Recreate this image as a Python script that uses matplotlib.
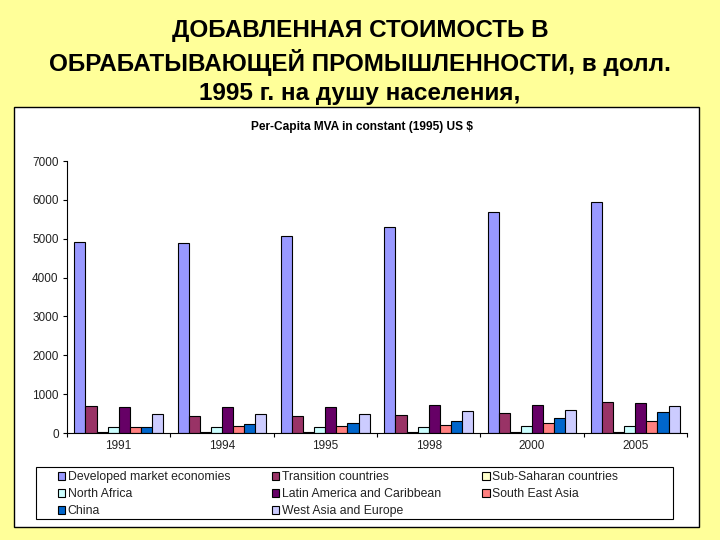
import matplotlib
matplotlib.use("Agg")
import matplotlib.pyplot as plt
import numpy as np
from matplotlib.patches import Rectangle

years = ["1991", "1994", "1995", "1998", "2000", "2005"]
series_names = ["Developed market economies", "Transition countries", "Sub-Saharan countries",
                "North Africa", "Latin America and Caribbean", "South East Asia",
                "China", "West Asia and Europe"]
developed = [4910, 4900, 5060, 5300, 5680, 5940]
transition = [690, 430, 430, 460, 505, 790]
sub_saharan = [20, 15, 15, 15, 15, 15]
north_africa = [155, 155, 150, 155, 170, 190]
latin_america = [670, 670, 670, 720, 720, 765]
se_asia = [155, 180, 180, 200, 250, 300]
china = [155, 225, 250, 300, 375, 530]
west_asia = [490, 490, 500, 560, 590, 695]
values = [developed, transition, sub_saharan, north_africa, latin_america, se_asia, china, west_asia]
colors = ["#9999FF", "#993366", "#FFFFCC", "#CCFFFF", "#660066", "#FF8080", "#0066CC", "#CCCCFF"]

plt.rcParams['font.family'] = ['Liberation Sans', 'DejaVu Sans']
fig = plt.figure(figsize=(7.2, 5.4), dpi=100)
fig.patch.set_facecolor("#FFFF99")

W, H = 720, 540
# white chart panel
fig.patches.append(Rectangle((14 / W, 13 / H), 685 / W, 420 / H, transform=fig.transFigure,
                             facecolor="white", edgecolor="black", linewidth=1.0, zorder=-5))
# legend box
fig.patches.append(Rectangle((36 / W, (H - 519) / H), 637 / W, 52 / H, transform=fig.transFigure,
                             facecolor="white", edgecolor="black", linewidth=0.8, zorder=-4))

for txt, yy in [("ДОБАВЛЕННАЯ СТОИМОСТЬ В", 30),
                ("ОБРАБАТЫВАЮЩЕЙ ПРОМЫШЛЕННОСТИ, в долл.", 62),
                ("1995 г. на душу населения,", 93)]:
    fig.text(0.5, 1 - yy / H, txt, ha="center", va="center", fontsize=17.5, fontweight="bold")
fig.text(362 / W, 1 - 127 / H, "Per-Capita MVA in constant (1995) US $", ha="center", va="center",
         fontsize=8.6, fontweight="bold")

ax = fig.add_axes([67 / W, (H - 433) / H, 620 / W, 272 / H])
ax.set_facecolor("none")
ax.set_zorder(2)
n = len(values)
bw = 0.107
x = np.arange(len(years))
handles = []
for i, (vals, c) in enumerate(zip(values, colors)):
    pos = x - n * bw / 2 + bw * (i + 0.5)
    b = ax.bar(pos, vals, width=bw, color=c, edgecolor="black", linewidth=0.8,
               label=series_names[i])
    handles.append(b)

ax.set_xlim(-0.5, len(years) - 0.5)
ax.set_ylim(0, 7000)
ax.set_yticks(np.arange(0, 7001, 1000))
ax.set_yticklabels([str(v) for v in range(0, 7001, 1000)], fontsize=8.5, color="#222222")
ax.set_xticks(x)
ax.set_xticklabels(years, fontsize=8.5, color="#222222")
ax.tick_params(axis="x", length=0, pad=5)
ax.set_xticks(np.arange(-0.5, len(years)), minor=True)
ax.tick_params(axis="x", which="minor", length=3, direction="out", width=0.8)
ax.tick_params(axis="y", length=3, width=0.8, pad=3)
for s in ["top", "right"]:
    ax.spines[s].set_visible(False)
ax.spines["left"].set_linewidth(0.8)
ax.spines["bottom"].set_linewidth(0.8)

order = [0, 3, 6, 1, 4, 7, 2, 5]
leg = fig.legend([handles[i] for i in order], [series_names[i] for i in order],
                 loc="upper left", bbox_to_anchor=(58 / W, 1 - 471 / H),
                 ncol=3, fontsize=8.8, frameon=False,
                 handlelength=0.6, handleheight=0.6, handletextpad=0.2,
                 borderpad=0, labelspacing=0.42, borderaxespad=0, columnspacing=3.4)
for t in leg.get_texts():
    t.set_color("#222222")

fig.savefig("out.png", dpi=100, facecolor=fig.get_facecolor())
